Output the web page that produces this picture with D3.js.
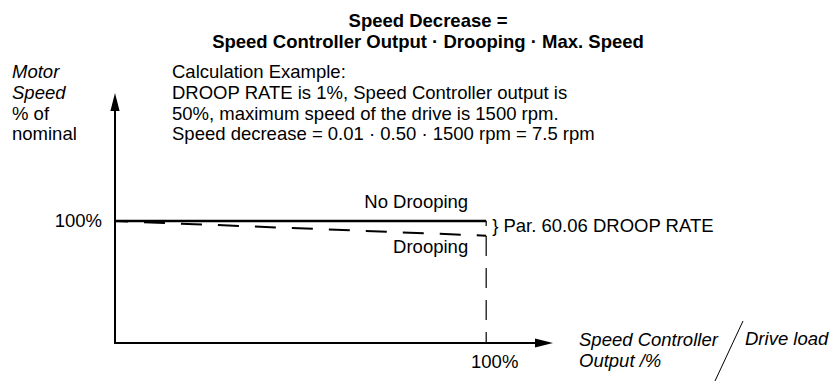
<!DOCTYPE html>
<html>
<head>
<meta charset="utf-8">
<script src="https://cdn.jsdelivr.net/npm/d3@7"></script>
<style>
  html, body { margin: 0; padding: 0; background: #fff; }
  svg { display: block; }
  text { font-family: "Liberation Sans", Arial, Helvetica, sans-serif; fill: #000; }
</style>
</head>
<body>
<script>
// Speed controller output (% of full scale) along the horizontal axis
const controllerOutput = [0, 100];
// Motor speed, % of nominal
const speedNoDrooping = [100, 100];
const speedDrooping = [100, 88];
// Axis extents (arrow tips) in data units
const xAxisEnd = 118;
const yAxisEnd = 205;
const xTickValues = [100];
const yTickValues = [100];

const titleLines = [
  "Speed Decrease =",
  "Speed Controller Output \u00b7 Drooping \u00b7 Max. Speed"
];
const exampleLines = [
  "Calculation Example:",
  "DROOP RATE is 1%, Speed Controller output is",
  "50%, maximum speed of the drive is 1500 rpm.",
  "Speed decrease = 0.01 \u00b7 0.50 \u00b7 1500 rpm = 7.5 rpm"
];
const yAxisLabel = [
  { text: "Motor", italic: true },
  { text: "Speed", italic: true },
  { text: "% of", italic: false },
  { text: "nominal", italic: false }
];
const xAxisLabel = ["Speed Controller", "Output /%"];
const altXAxisLabel = "Drive load";
const seriesLabels = { noDrooping: "No Drooping", drooping: "Drooping" };
const droopNote = "} Par. 60.06 DROOP RATE";

const W = 831, H = 385;
const FS = 18.5;

const svg = d3.select("body").append("svg")
  .attr("width", W).attr("height", H);

const x = d3.scaleLinear().domain([0, xAxisEnd]).range([115, 553]);
const y = d3.scaleLinear().domain([0, yAxisEnd]).range([343, 93]);

// Title
svg.append("g").selectAll("text").data(titleLines).join("text")
  .attr("x", 428).attr("y", (d, i) => 27 + i * 21)
  .attr("text-anchor", "middle")
  .attr("font-weight", "bold")
  .attr("font-size", FS)
  .text(d => d);

// Calculation example block
svg.append("g").selectAll("text").data(exampleLines).join("text")
  .attr("x", 172).attr("y", (d, i) => 78 + i * 20.8)
  .attr("font-size", FS)
  .text(d => d);

// Vertical axis title
svg.append("g").selectAll("text").data(yAxisLabel).join("text")
  .attr("x", 12).attr("y", (d, i) => 78 + i * 20.8)
  .attr("font-size", FS)
  .attr("font-style", d => d.italic ? "italic" : "normal")
  .text(d => d.text);

// Tick labels via d3 axes (no domain path, no tick lines)
const yAxisG = svg.append("g")
  .attr("transform", `translate(${x(0)},0)`)
  .call(d3.axisLeft(y).tickValues(yTickValues).tickSize(0).tickPadding(13)
    .tickFormat(d => d + "%"));
yAxisG.select(".domain").remove();
yAxisG.selectAll("text").attr("font-size", FS)
  .attr("font-family", "Liberation Sans, Arial, sans-serif").attr("fill", "#000");

const xAxisG = svg.append("g")
  .attr("transform", `translate(0,${y(0)})`)
  .call(d3.axisBottom(x).tickValues(xTickValues).tickSize(0).tickPadding(12)
    .tickFormat(d => d + "%"));
xAxisG.select(".domain").remove();
xAxisG.selectAll("text").attr("font-size", FS).attr("dx", 8)
  .attr("font-family", "Liberation Sans, Arial, sans-serif").attr("fill", "#000");

// Axis lines with arrowheads
svg.append("path")
  .attr("d", `M${x(0)},${y(yAxisEnd) + 15}V${y(0)}H${x(xAxisEnd) - 15}`)
  .attr("fill", "none").attr("stroke", "#000").attr("stroke-width", 2);
svg.append("path")
  .attr("d", `M${x(0)},${y(yAxisEnd)}L${x(0) - 4.6},${y(yAxisEnd) + 18}L${x(0) + 4.6},${y(yAxisEnd) + 18}Z`)
  .attr("fill", "#000");
svg.append("path")
  .attr("d", `M${x(xAxisEnd)},${y(0)}L${x(xAxisEnd) - 18},${y(0) - 4.6}L${x(xAxisEnd) - 18},${y(0) + 4.6}Z`)
  .attr("fill", "#000");

// Drop line from the drooping end point to the 100% output mark
const lastIdx = controllerOutput.length - 1;
svg.append("line")
  .attr("x1", x(controllerOutput[lastIdx])).attr("x2", x(controllerOutput[lastIdx]))
  .attr("y1", y(0)).attr("y2", y(speedDrooping[lastIdx]))
  .attr("stroke", "#000").attr("stroke-width", 1.2)
  .attr("stroke-dasharray", "20,12").attr("stroke-dashoffset", 9);

const pts = (vals) => controllerOutput.map((c, i) => [c, vals[i]]);
const line = d3.line().x(d => x(d[0])).y(d => y(d[1]));

// No drooping: solid line
svg.append("path").attr("d", line(pts(speedNoDrooping)))
  .attr("fill", "none").attr("stroke", "#000").attr("stroke-width", 2.4);
// small end tick on the solid line
svg.append("line")
  .attr("x1", x(controllerOutput[lastIdx])).attr("x2", x(controllerOutput[lastIdx]))
  .attr("y1", y(speedNoDrooping[lastIdx])).attr("y2", y(speedNoDrooping[lastIdx]) + 5)
  .attr("stroke", "#000").attr("stroke-width", 1.2);

// Drooping: dashed line
svg.append("path").attr("d", line(pts(speedDrooping)))
  .attr("fill", "none").attr("stroke", "#000").attr("stroke-width", 2)
  .attr("stroke-dasharray", "21,16").attr("stroke-dashoffset", 8);

// Series labels
svg.append("text").attr("x", x(controllerOutput[lastIdx]) - 18).attr("y", y(speedNoDrooping[lastIdx]) - 13)
  .attr("text-anchor", "end").attr("font-size", FS).text(seriesLabels.noDrooping);
svg.append("text").attr("x", x(controllerOutput[lastIdx]) - 18).attr("y", y(speedDrooping[lastIdx]) + 17)
  .attr("text-anchor", "end").attr("font-size", FS).text(seriesLabels.drooping);

// Droop rate bracket note
svg.append("text").attr("x", x(controllerOutput[lastIdx]) + 6).attr("y", 232)
  .attr("font-size", FS).text(droopNote);

// Horizontal axis title and alternative quantity
svg.append("g").selectAll("text").data(xAxisLabel).join("text")
  .attr("x", 579).attr("y", (d, i) => 346 + i * 20.5)
  .attr("font-size", FS).attr("font-style", "italic")
  .text(d => d);
svg.append("line").attr("x1", 743).attr("y1", 321).attr("x2", 715).attr("y2", 381)
  .attr("stroke", "#000").attr("stroke-width", 1);
svg.append("text").attr("x", 745).attr("y", 345)
  .attr("font-size", FS).attr("font-style", "italic").text(altXAxisLabel);
</script>
</body>
</html>
